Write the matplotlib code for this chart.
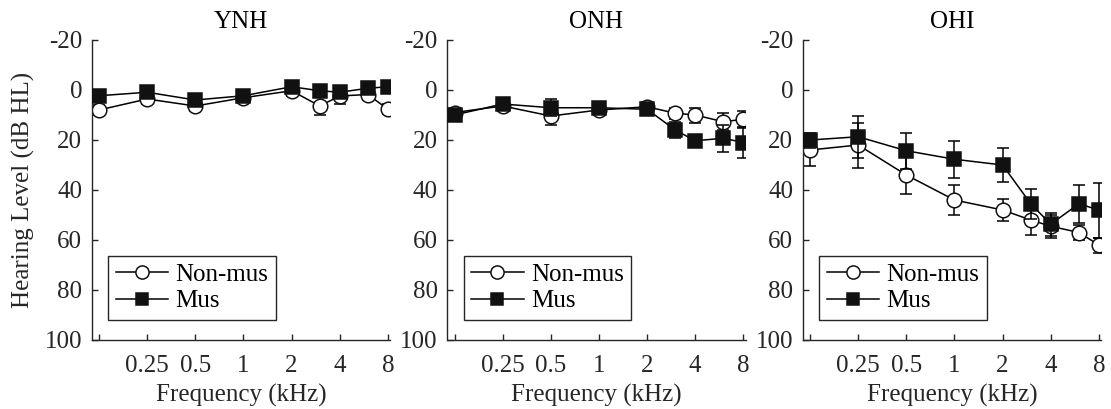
import matplotlib
matplotlib.use("Agg")
import matplotlib.pyplot as plt
from matplotlib.lines import Line2D
import numpy as np

freqs = [0.125, 0.25, 0.5, 1, 2, 3, 4, 6, 8]
groups = ["YNH", "ONH", "OHI"]

ynh_nonmus = [8, 3.6, 6.4, 3.1, 0.3, 6.4, 2.4, 1.8, 7.7]
ynh_nonmus_err = [2, 2, 2, 2, 2, 3.5, 3, 2, 2]
ynh_mus = [2.3, 0.9, 4, 2.3, -1.3, 0.3, 0.9, -0.7, -1.3]
ynh_mus_err = [2, 2, 2, 2, 2, 2, 2, 2, 2]

onh_nonmus = [9, 6.4, 10.4, 8, 6.7, 9.3, 10, 12.7, 11.7]
onh_nonmus_err = [2, 2, 3.6, 2, 2, 2.2, 3, 3.4, 3.3]
onh_mus = [10, 5.6, 7.1, 7.1, 7.7, 16, 20.3, 19.3, 21]
onh_mus_err = [2, 2, 3.4, 2, 2, 3.3, 2, 5.4, 6.3]

ohi_nonmus = [24, 22, 34, 44, 48, 52, 54.5, 57, 62]
ohi_nonmus_err = [6.5, 9, 7.6, 6, 4.5, 6, 4.5, 3, 3]
ohi_mus = [20, 18.7, 24.3, 27.7, 30, 45.5, 53.7, 45.5, 48]
ohi_mus_err = [3, 8.4, 7.3, 7.5, 6.8, 6, 4.5, 7.5, 11]

nonmus_all = [ynh_nonmus, onh_nonmus, ohi_nonmus]
nonmus_err_all = [ynh_nonmus_err, onh_nonmus_err, ohi_nonmus_err]
mus_all = [ynh_mus, onh_mus, ohi_mus]
mus_err_all = [ynh_mus_err, onh_mus_err, ohi_mus_err]

series_labels = ["Non-mus", "Mus"]
xticks = [0.125, 0.25, 0.5, 1, 2, 4, 8]
xticklabels = ["", "0.25", "0.5", "1", "2", "4", "8"]
yticks = [-20, 0, 20, 40, 60, 80, 100]

plt.rcParams["font.family"] = ["Liberation Serif", "DejaVu Serif"]
plt.rcParams["axes.unicode_minus"] = False
plt.rcParams["font.size"] = 18

gray = "#262626"
W, H = 1111, 409
fig = plt.figure(figsize=(W / 100, H / 100), dpi=100)

circ_style = dict(color="black", marker="o", mfc="white", mec="#111111",
                  ms=10.5, mew=1.1, lw=1.1)
sq_style = dict(color="black", marker="s", mfc="#111111", mec="#111111",
                ms=9.5, mew=1.1, lw=1.1)

lefts = [92, 447.5, 803]
for i, g in enumerate(groups):
    ax = fig.add_axes([lefts[i] / W, (H - 340) / H, 298 / W, 300 / H])
    ax.errorbar(freqs, nonmus_all[i], yerr=nonmus_err_all[i],
                elinewidth=1.1, capsize=4, capthick=1.1, zorder=2,
                ecolor="black", **circ_style)
    ax.errorbar(freqs, mus_all[i], yerr=mus_err_all[i],
                elinewidth=1.1, capsize=4, capthick=1.1, zorder=3,
                ecolor="black", **sq_style)
    ax.set_xscale("log")
    ax.set_xlim(0.113, 8.25)
    ax.set_ylim(100, -20)
    ax.set_xticks(xticks)
    ax.set_xticklabels(xticklabels)
    ax.minorticks_off()
    ax.set_yticks(yticks)
    ax.spines["top"].set_visible(False)
    ax.spines["right"].set_visible(False)
    for s in ("left", "bottom"):
        ax.spines[s].set_color(gray)
        ax.spines[s].set_linewidth(1.0)
    ax.tick_params(direction="in", length=4, width=1.0, colors=gray,
                   labelsize=18, pad=7)
    ax.tick_params(axis="x", pad=11)
    ax.set_title(g, fontsize=18, color="black", pad=9)
    ax.set_xlabel("Frequency (kHz)", fontsize=18, color=gray, labelpad=5)
    if i == 0:
        ax.set_ylabel("Hearing Level (dB HL)", fontsize=18, color=gray,
                      labelpad=7)
    handles = [Line2D([], [], **dict(circ_style, ms=9.5)),
               Line2D([], [], **dict(sq_style, ms=8.5))]
    leg = ax.legend(handles, series_labels, loc="lower left",
                    bbox_to_anchor=(0.054, 0.067),
                    borderaxespad=0, fancybox=False, framealpha=1,
                    edgecolor=gray, fontsize=18, handlelength=2.1,
                    handletextpad=0.3, labelspacing=0.15, borderpad=0.3)
    leg.get_frame().set_linewidth(1.0)
    for t in leg.get_texts():
        t.set_color("black")

fig.savefig("out.png", dpi=100)
